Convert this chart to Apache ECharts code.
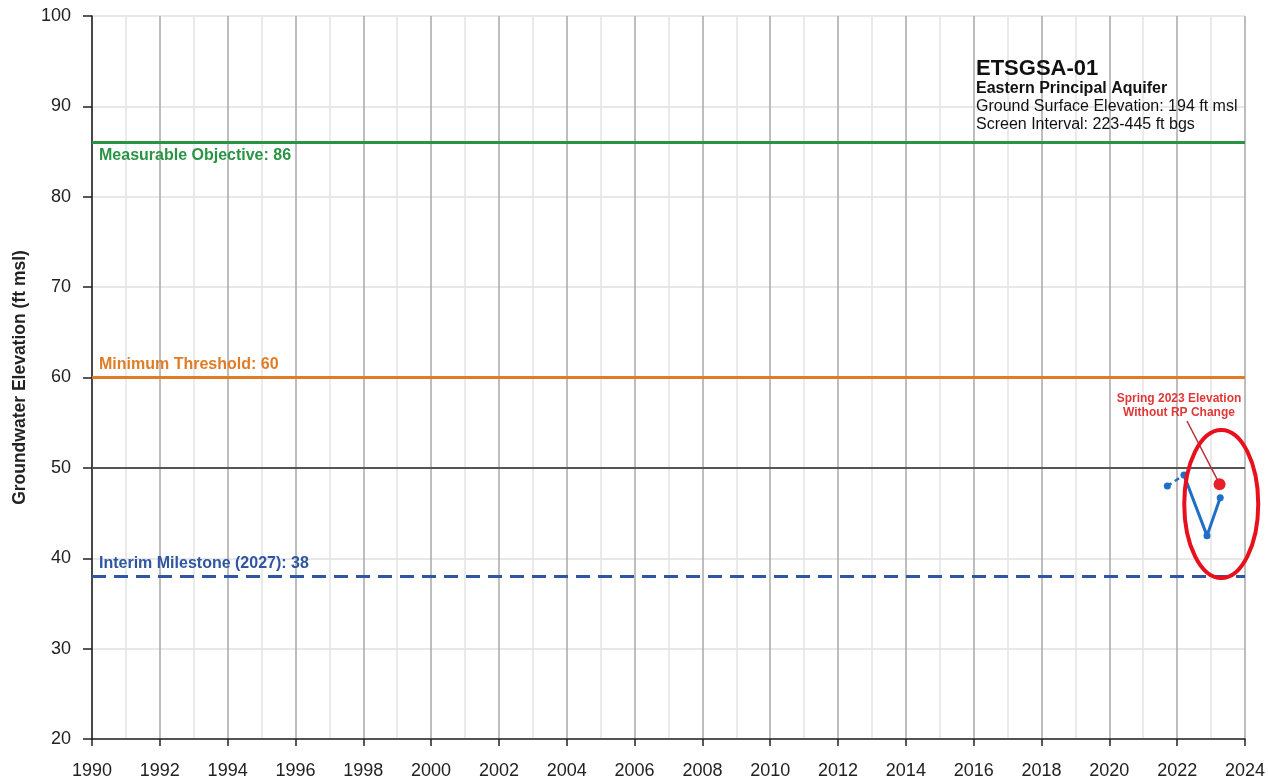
<!DOCTYPE html>
<html>
<head>
<meta charset="utf-8">
<script src="https://cdn.jsdelivr.net/npm/echarts@6/dist/echarts.min.js"></script>
<style>
html,body{margin:0;padding:0;background:#fff;}
#chart{width:1268px;height:781px;}
</style>
</head>
<body>
<div id="chart"></div>
<script>
// Well hydrograph data (decimal year, ft msl)
const obsYears = [2021.71, 2022.20, 2022.88, 2023.27];
const obsValues = [48.0, 49.2, 42.5, 46.7];
const altYear = [2023.25];
const altValue = [48.2];

// Sustainability criteria
const measurableObjective = 86;
const minimumThreshold = 60;
const interimMilestone = 38;
const referenceLevel = 50;

const wellName = 'ETSGSA-01';
const wellInfo = ['Eastern Principal Aquifer', 'Ground Surface Elevation: 194 ft msl', 'Screen Interval: 223-445 ft bgs'];

const FONT = 'Liberation Sans, Arial, sans-serif';
const pts = obsYears.map((y, i) => [y, obsValues[i]]);

const chart = echarts.init(document.getElementById('chart'));

const refLine = (val, color, type, text, pos) => ({
  silent: true,
  symbol: 'none',
  data: [{ yAxis: val }],
  lineStyle: { color: color, width: 3, type: type },
  label: {
    show: true, position: pos, formatter: text, color: color,
    fontFamily: FONT, fontWeight: 'bold', fontSize: 16, distance: [7, 5]
  },
  emphasis: { disabled: true }
});

chart.setOption({
  animation: false,
  grid: { left: 92, right: 21, top: 16, bottom: 42, containLabel: false },
  xAxis: {
    type: 'value', min: 1990, max: 2024, interval: 2,
    axisLine: { show: true, onZero: false, lineStyle: { color: '#222', width: 1.5 } },
    axisTick: { show: true, length: 7, lineStyle: { color: '#222', width: 1.5 } },
    axisLabel: { color: '#222', fontFamily: FONT, fontSize: 18, margin: 23, formatter: v => String(v) },
    splitLine: { show: true, lineStyle: { color: '#a8a8a8', width: 1.5 } },
    minorTick: { show: false, splitNumber: 2 },
    minorSplitLine: { show: true, lineStyle: { color: '#e4e4e4', width: 1.5 } }
  },
  yAxis: {
    type: 'value', min: 20, max: 100, interval: 10,
    name: 'Groundwater Elevation (ft msl)', nameLocation: 'middle', nameGap: 63,
    nameTextStyle: { fontFamily: FONT, fontWeight: 'bold', fontSize: 17.5, color: '#222' },
    axisLine: { show: true, lineStyle: { color: '#222', width: 1.5 } },
    axisTick: { show: true, length: 9, lineStyle: { color: '#222', width: 1.5 } },
    axisLabel: { color: '#222', fontFamily: FONT, fontSize: 18, margin: 21 },
    splitLine: { show: true, lineStyle: { color: '#e0e0e0', width: 1.5 } }
  },
  series: [
    {
      name: 'objective', type: 'line', data: [], silent: true,
      markLine: refLine(measurableObjective, '#2a9444', 'solid', 'Measurable Objective: ' + measurableObjective, 'insideStartBottom')
    },
    {
      name: 'threshold', type: 'line', data: [], silent: true,
      markLine: refLine(minimumThreshold, '#e07c26', 'solid', 'Minimum Threshold: ' + minimumThreshold, 'insideStartTop')
    },
    {
      name: 'milestone', type: 'line', data: [], silent: true,
      markLine: refLine(interimMilestone, '#2f56a0', [14, 8], 'Interim Milestone (2027): ' + interimMilestone, 'insideStartTop')
    },
    {
      name: 'ref50', type: 'line', data: [], silent: true,
      markLine: {
        silent: true, symbol: 'none', data: [{ yAxis: referenceLevel }],
        lineStyle: { color: '#555', width: 2, type: 'solid' }, label: { show: false }
      }
    },
    {
      name: 'gap', type: 'line', data: pts.slice(0, 2), symbol: 'none',
      lineStyle: { color: '#1f6fc8', width: 2.5, type: [5, 4] }, z: 3
    },
    {
      name: 'Groundwater Elevation', type: 'line', data: pts.slice(1),
      symbol: 'none',
      lineStyle: { color: '#1f6fc8', width: 3 }, z: 4
    },
    {
      name: 'points', type: 'scatter', data: pts, symbolSize: 7,
      itemStyle: { color: '#1f6fc8', opacity: 1 }, z: 5
    },
    {
      name: 'Spring 2023 Elevation Without RP Change', type: 'scatter',
      data: altYear.map((y, i) => [y, altValue[i]]), symbolSize: 12,
      itemStyle: { color: '#e8202a', opacity: 1 }, z: 6
    }
  ]
});

function drawAnnotations() {
  const alt = chart.convertToPixel({ gridIndex: 0 }, [altYear[0], altValue[0]]);
  const ctr = chart.convertToPixel({ gridIndex: 0 }, [2023.3, 46.0]);
  const t = (text, y, font) => ({
    type: 'text', x: 0, y: y,
    style: { text: text, font: font, fill: '#111', verticalAlign: 'middle' }
  });
  chart.setOption({
    graphic: [
      {
        type: 'group', x: 976, y: 0,
        children: [
          t(wellName, 69, 'bold 22px ' + FONT),
          t(wellInfo[0], 89, 'bold 16px ' + FONT),
          t(wellInfo[1], 107, '16px ' + FONT),
          t(wellInfo[2], 125, '16px ' + FONT)
        ]
      },
      {
        type: 'ellipse', shape: { cx: ctr[0], cy: ctr[1], rx: 37, ry: 74 },
        style: { fill: 'none', stroke: '#e8101c', lineWidth: 4 }, z: 10
      },
      {
        type: 'line', shape: { x1: 1187, y1: 421, x2: alt[0] - 2, y2: alt[1] - 4 },
        style: { stroke: '#b8303a', lineWidth: 1.5 }, z: 9
      },
      {
        type: 'text', x: 1179, y: 392,
        style: {
          text: 'Spring 2023 Elevation\nWithout RP Change', align: 'center',
          font: 'bold 12px ' + FONT, fill: '#e03838', lineHeight: 14
        }, z: 10
      }
    ]
  });
}
drawAnnotations();
</script>
</body>
</html>
